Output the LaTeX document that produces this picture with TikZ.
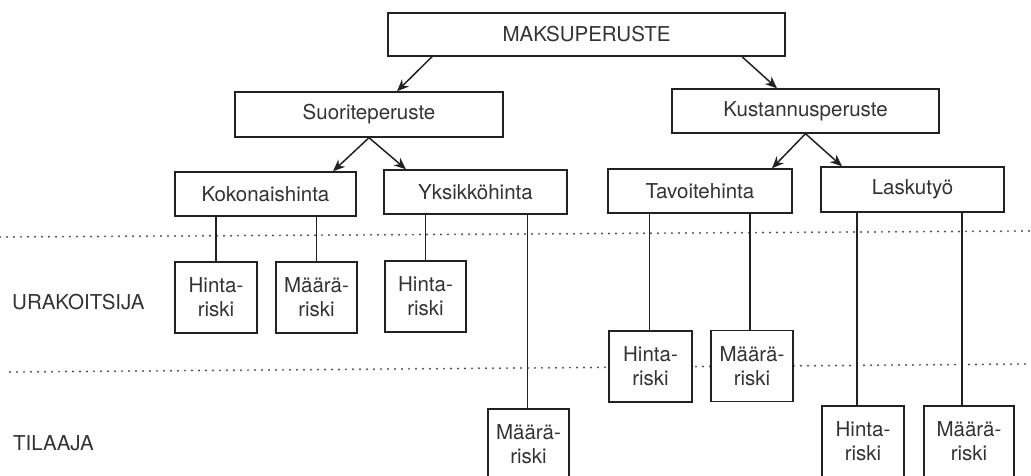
\documentclass[tikz,border=0pt]{standalone}
\usepackage{fontspec}
\setmainfont{TeX Gyre Heros}
\usetikzlibrary{arrows.meta,calc}
\definecolor{ink}{HTML}{222222}
\definecolor{txt}{HTML}{333333}
\begin{document}
\begin{tikzpicture}[x=1pt,y=-1pt,
  every node/.style={font=\fontsize{20.5}{24}\selectfont, text=txt},
  box/.style={draw=ink, line width=1.4pt, fill=white, inner sep=0pt, minimum height=44pt},
  riskbox/.style={draw=ink, line width=1.4pt, fill=white, inner sep=0pt, align=center, minimum width=82pt, minimum height=71pt},
  dotline/.style={line width=2.2pt, dash pattern=on 0pt off 7pt, line cap=round, draw=ink!80},
  conn/.style={draw=ink, line width=1.3pt},
  arr/.style={draw=ink, line width=1.5pt, -{Stealth[length=12pt,width=10pt]}},
  lab/.style={anchor=west, inner sep=0pt}]
\useasboundingbox (0,0) rectangle (1031,475);
\clip (0,0) rectangle (1031,475);

% dotted separators
\coordinate (d1a) at (0,237);
\coordinate (d1b) at (1031,231);
\coordinate (d2a) at (10,372);
\coordinate (d2b) at (1031,364);
\draw[dotline] (d1a) -- (d1b);
\draw[dotline] (d2a) -- (d2b);

% side labels
\node[lab] (urak) at (12,302) {URAKOITSIJA};
\node[lab] (tila) at (13,443) {TILAAJA};

% main boxes
\node[box, minimum width=397pt, minimum height=43pt] (maks) at (586.5,34.5) {MAKSUPERUSTE};
\node[box, minimum width=268pt, minimum height=45pt] (suor) at (369,114.5) {Suoriteperuste};
\node[box, minimum width=267pt] (kust) at (805.5,111) {Kustannusperuste};
\node[box, minimum width=181pt] (kok) at (265.5,194) {Kokonaishinta};
\node[box, minimum width=183pt] (yks) at (475.5,192) {Yksikköhinta};
\node[box, minimum width=184pt] (tav) at (700,191) {Tavoitehinta};
\node[box, minimum width=183pt, minimum height=45pt] (las) at (912.5,189.5) {Laskutyö};

% risk boxes
\path (216,297.5) node[riskbox] (h1) {Hinta-\\riski};
\path (316.5,297.5) node[riskbox, minimum width=81pt] (m1) {Määrä-\\riski};
\path (425.5,296.5) node[riskbox, minimum width=81pt] (h2) {Hinta-\\riski};
\path (528.5,444.5) node[riskbox, minimum width=81pt] (m2) {Määrä-\\riski};
\path (650.5,366.5) node[riskbox, minimum width=83pt] (h3) {Hinta-\\riski};
\path (752,366) node[riskbox] (m3) {Määrä-\\riski};
\path (863,441.5) node[riskbox] (h4) {Hinta-\\riski};
\path (969,441.5) node[riskbox, minimum width=90pt] (m4) {Määrä-\\riski};

% vertical connectors
\draw[conn] (h1.north) -- (h1.north |- kok.south);
\draw[conn] (m1.north) -- (m1.north |- kok.south);
\draw[conn] (h2.north) -- (h2.north |- yks.south);
\draw[conn] ([xshift=-1pt]m2.north) -- ([xshift=-1pt]m2.north |- yks.south);
\draw[conn] ([xshift=-1pt]h3.north) -- ([xshift=-1pt]h3.north |- tav.south);
\draw[conn] ([xshift=-2pt]m3.north) -- ([xshift=-2pt]m3.north |- tav.south);
\draw[conn] ([xshift=-6pt]h4.north) -- ([xshift=-6pt]h4.north |- las.south);
\draw[conn] ([xshift=-7pt]m4.north) -- ([xshift=-7pt]m4.north |- las.south);

% arrows
\draw[arr] ([xshift=-154.5pt]maks.south) -- ([xshift=28pt]suor.north);
\draw[arr] ([xshift=155.5pt]maks.south) -- ([xshift=-28.5pt]kust.north);
\draw[arr] (suor.south) -- ([xshift=67.5pt]kok.north);
\draw[arr] (suor.south) -- ([xshift=-69.5pt]yks.north);
\draw[arr] (kust.south) -- ([xshift=72pt]tav.north);
\draw[arr] (kust.south) -- ([xshift=-70.5pt]las.north);
\end{tikzpicture}
\end{document}
